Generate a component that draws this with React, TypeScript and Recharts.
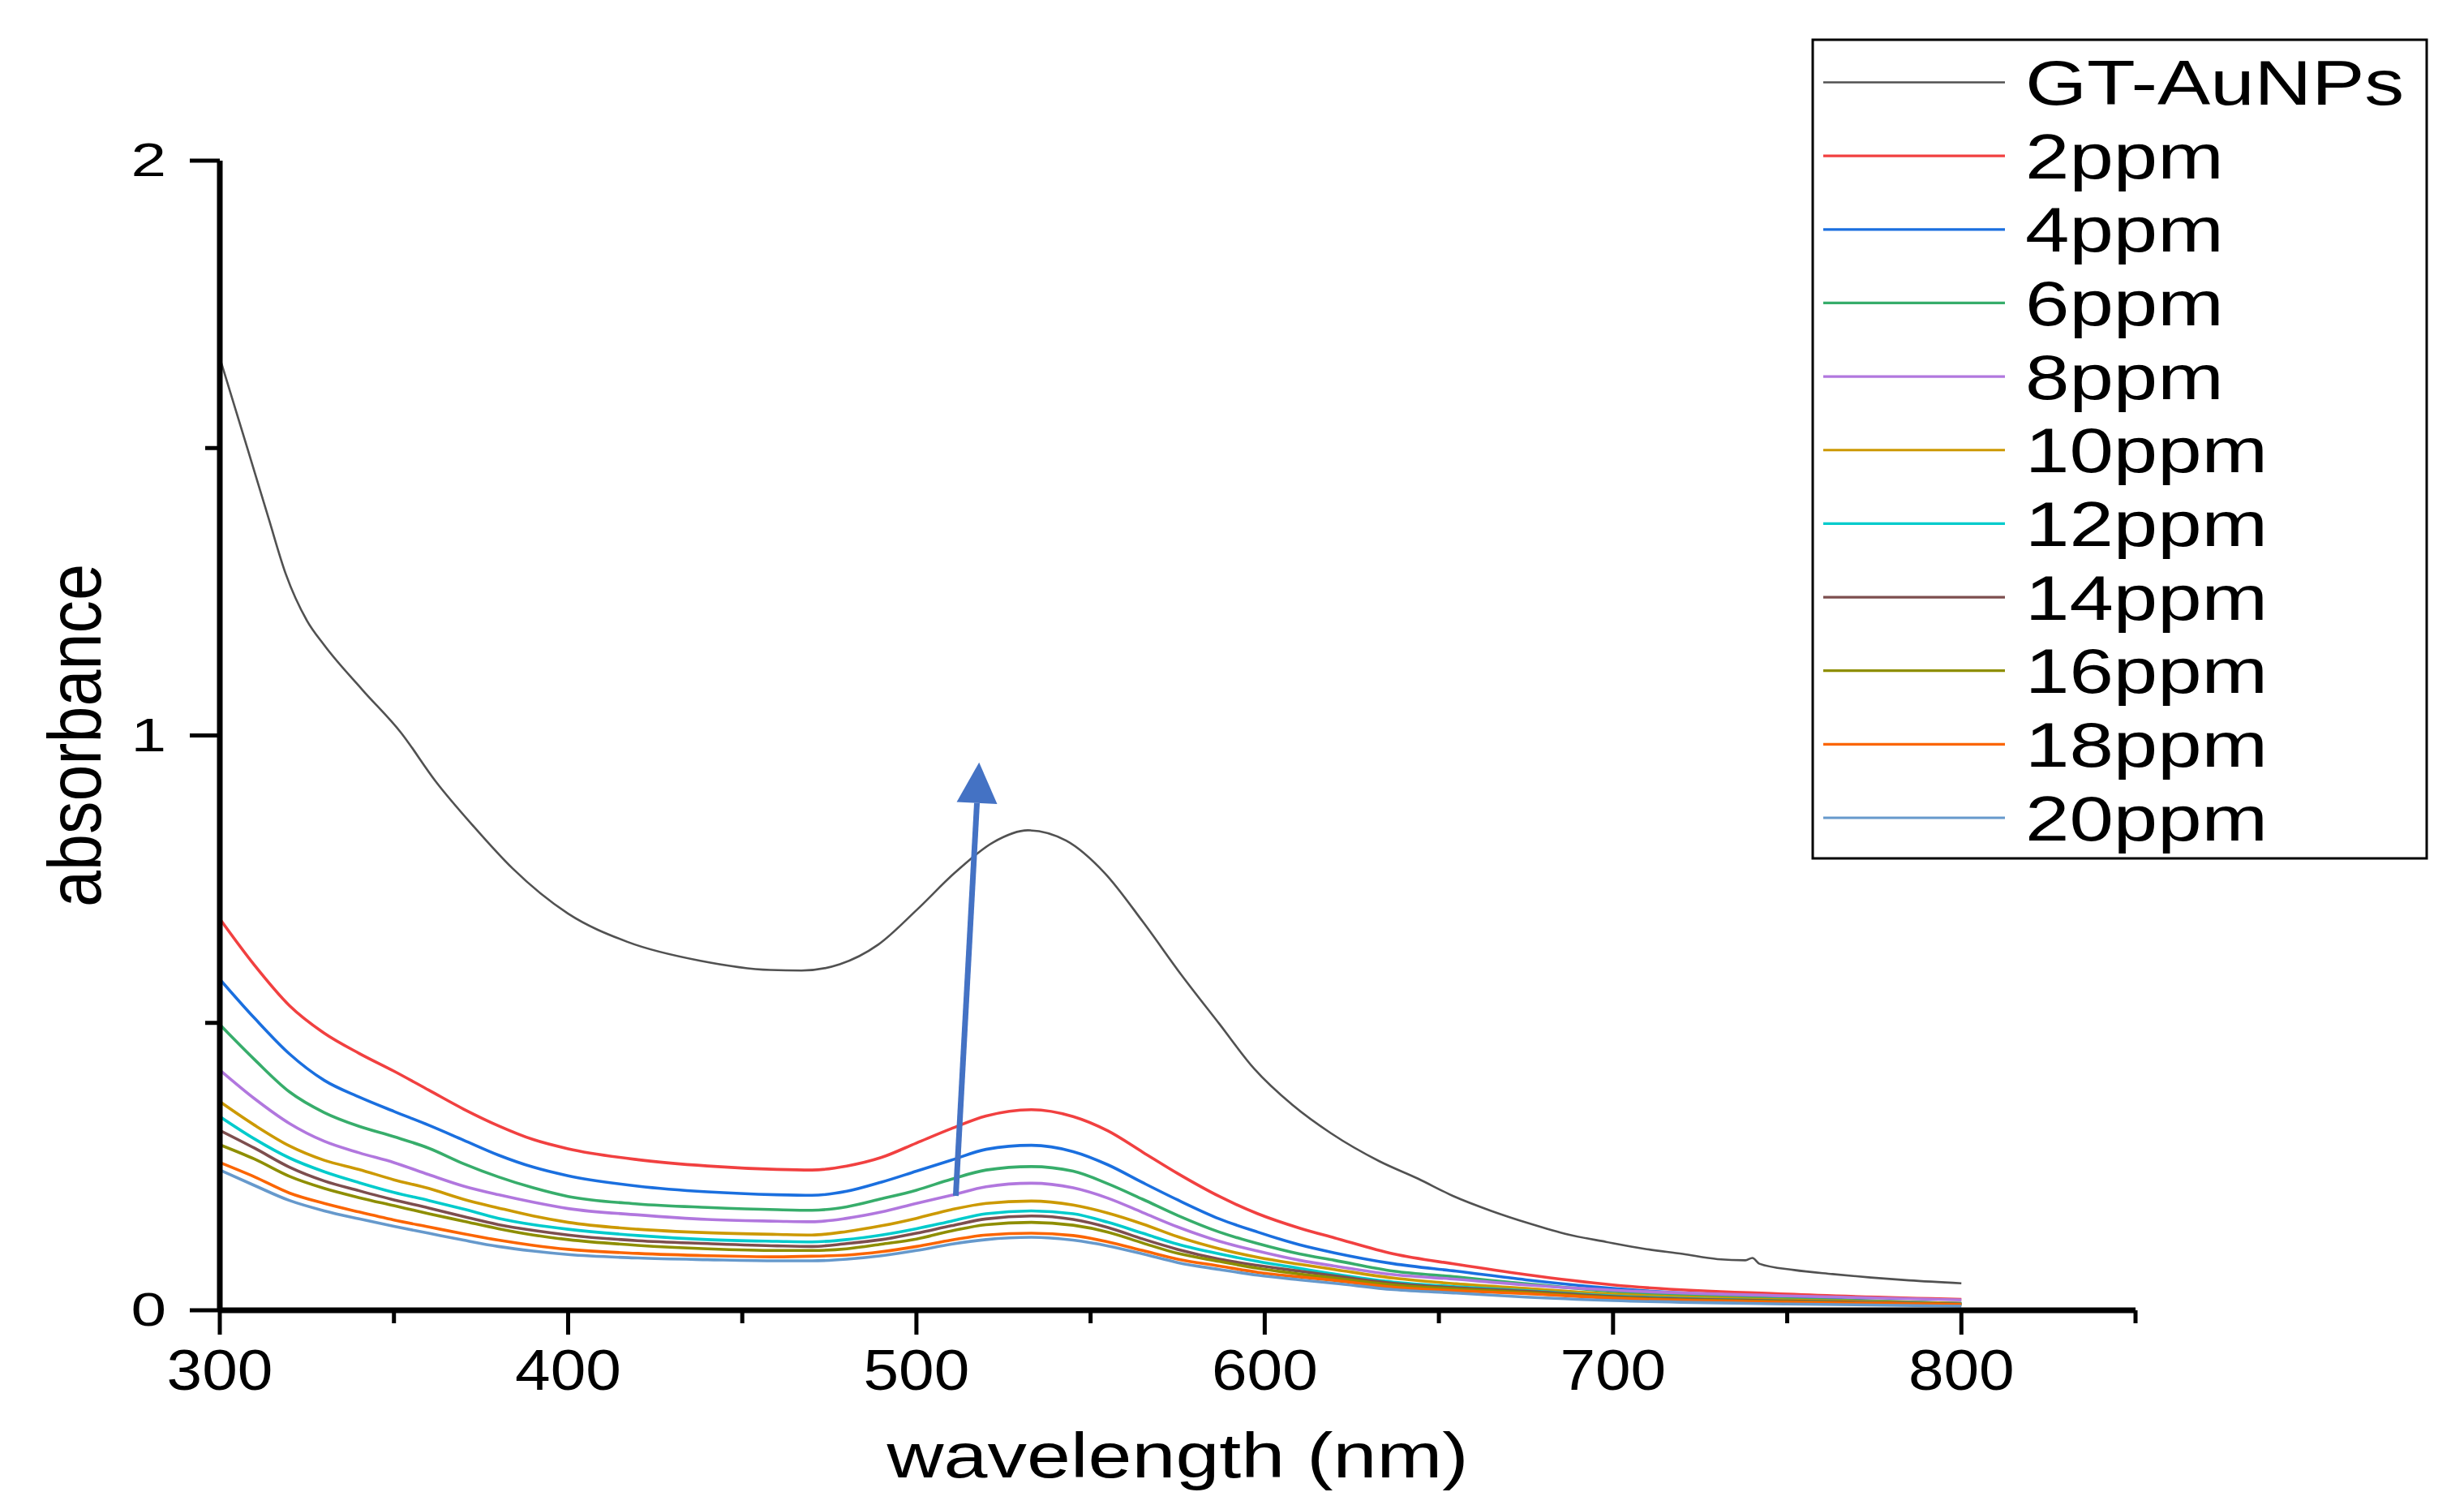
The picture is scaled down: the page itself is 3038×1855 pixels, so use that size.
import { LineChart, Line, XAxis, YAxis, Legend, ReferenceLine } from "recharts";

// wavelength grid (nm) shared by the ppm series
const wavelengths = [
  300, 310, 320, 330, 340, 350, 360, 370, 380, 390, 400, 420, 440, 460, 470, 480, 490,
  500, 510, 520, 533, 545, 555, 565, 575, 587, 598, 610, 620, 637, 655, 675, 700, 750, 800,
];

const ppm2 = [
  0.681, 0.6, 0.53, 0.482, 0.447, 0.416, 0.383, 0.35, 0.321, 0.297, 0.281, 0.262, 0.251, 0.245, 0.244, 0.251, 0.266,
  0.291, 0.316, 0.338, 0.349, 0.337, 0.312, 0.275, 0.238, 0.198, 0.168, 0.143, 0.126, 0.098, 0.08, 0.062, 0.044, 0.028, 0.019,
];
const ppm4 = [
  0.576, 0.508, 0.446, 0.4, 0.371, 0.346, 0.322, 0.296, 0.27, 0.249, 0.234, 0.216, 0.206, 0.201, 0.2, 0.207, 0.223,
  0.242, 0.261, 0.28, 0.287, 0.276, 0.253, 0.222, 0.192, 0.159, 0.136, 0.114, 0.1, 0.081, 0.068, 0.053, 0.038, 0.022, 0.012,
];
const ppm6 = [
  0.497, 0.436, 0.38, 0.344, 0.32, 0.302, 0.282, 0.255, 0.232, 0.213, 0.198, 0.185, 0.179, 0.175, 0.174, 0.18, 0.194,
  0.209, 0.228, 0.244, 0.25, 0.242, 0.22, 0.193, 0.165, 0.136, 0.116, 0.098, 0.087, 0.068, 0.058, 0.046, 0.033, 0.02, 0.012,
];
const ppm8 = [
  0.418, 0.368, 0.325, 0.294, 0.274, 0.257, 0.236, 0.216, 0.201, 0.188, 0.177, 0.166, 0.158, 0.155, 0.154, 0.16, 0.171,
  0.186, 0.2, 0.215, 0.221, 0.213, 0.195, 0.17, 0.145, 0.12, 0.103, 0.087, 0.077, 0.062, 0.054, 0.044, 0.035, 0.025, 0.018,
];
const ppm10 = [
  0.363, 0.322, 0.286, 0.261, 0.245, 0.227, 0.212, 0.193, 0.178, 0.164, 0.153, 0.141, 0.135, 0.132, 0.131, 0.137, 0.147,
  0.16, 0.175, 0.186, 0.19, 0.183, 0.169, 0.15, 0.128, 0.107, 0.092, 0.08, 0.071, 0.056, 0.046, 0.038, 0.028, 0.018, 0.012,
];
const ppm12 = [
  0.337, 0.298, 0.265, 0.241, 0.222, 0.205, 0.191, 0.176, 0.16, 0.149, 0.141, 0.13, 0.123, 0.12, 0.119, 0.123, 0.131,
  0.142, 0.155, 0.168, 0.173, 0.168, 0.153, 0.134, 0.115, 0.098, 0.085, 0.073, 0.063, 0.049, 0.041, 0.034, 0.025, 0.016, 0.011,
];
const ppm14 = [
  0.313, 0.282, 0.249, 0.225, 0.208, 0.192, 0.178, 0.163, 0.149, 0.139, 0.131, 0.121, 0.116, 0.112, 0.111, 0.116, 0.123,
  0.134, 0.147, 0.159, 0.164, 0.158, 0.144, 0.124, 0.106, 0.089, 0.078, 0.068, 0.06, 0.047, 0.039, 0.033, 0.024, 0.016, 0.011,
];
const ppm16 = [
  0.288, 0.263, 0.233, 0.212, 0.196, 0.182, 0.168, 0.155, 0.142, 0.131, 0.123, 0.113, 0.107, 0.104, 0.104, 0.107, 0.115,
  0.124, 0.138, 0.149, 0.153, 0.148, 0.136, 0.117, 0.099, 0.085, 0.073, 0.063, 0.056, 0.044, 0.037, 0.031, 0.022, 0.015, 0.01,
];
const ppm18 = [
  0.257, 0.232, 0.204, 0.186, 0.171, 0.157, 0.145, 0.133, 0.122, 0.113, 0.106, 0.099, 0.095, 0.093, 0.094, 0.096, 0.102,
  0.111, 0.122, 0.131, 0.134, 0.13, 0.119, 0.104, 0.089, 0.077, 0.066, 0.058, 0.052, 0.04, 0.034, 0.029, 0.021, 0.014, 0.01,
];
const ppm20 = [
  0.244, 0.217, 0.191, 0.173, 0.159, 0.146, 0.134, 0.122, 0.111, 0.103, 0.097, 0.091, 0.088, 0.086, 0.086, 0.089, 0.095,
  0.104, 0.115, 0.123, 0.127, 0.122, 0.112, 0.098, 0.083, 0.071, 0.061, 0.053, 0.047, 0.036, 0.03, 0.023, 0.017, 0.011, 0.007,
];

// GT-AuNPs has its own sampling (keeps the small glitch near 740 nm)
const gtWavelengths = [
  300, 308, 314, 319, 325, 330, 341, 352, 362, 373, 384, 400, 417, 438, 458, 467, 478, 489, 500, 511, 522, 532, 543, 554,
  565, 576, 587, 597, 608, 619, 633, 644, 654, 665, 676, 687, 698, 709, 720, 730, 738, 740, 742, 752, 763, 774, 785, 800,
];
const gtAuNPs = [
  1.657, 1.498, 1.378, 1.28, 1.2, 1.157, 1.079, 1.005, 0.92, 0.841, 0.769, 0.69, 0.641, 0.608, 0.592, 0.591, 0.602,
  0.636, 0.696, 0.761, 0.814, 0.835, 0.817, 0.761, 0.676, 0.584, 0.498, 0.42, 0.357, 0.308, 0.259, 0.229, 0.199, 0.173,
  0.151, 0.132, 0.119, 0.107, 0.098, 0.089, 0.087, 0.091, 0.081, 0.07, 0.063, 0.057, 0.052, 0.047,
];

const seriesNames = ["2ppm", "4ppm", "6ppm", "8ppm", "10ppm", "12ppm", "14ppm", "16ppm", "18ppm", "20ppm"];
const seriesValues = [ppm2, ppm4, ppm6, ppm8, ppm10, ppm12, ppm14, ppm16, ppm18, ppm20];
const seriesColors = [
  "#F14040", "#1A6FDF", "#37AD6B", "#B177DE", "#CC9900",
  "#00CBCC", "#7D4E4E", "#8E8E00", "#FB6501", "#6699CC",
];
const gtName = "GT-AuNPs";
const gtColor = "#515151";

const xTicks = [300, 350, 400, 450, 500, 550, 600, 650, 700, 750, 800, 850];
const yTicks = [0, 0.5, 1, 1.5, 2];

// annotation arrow (tail -> tip), in data units
const arrowSegment = [
  { x: 511.3, y: 0.199 },
  { x: 518.0, y: 0.953 },
];

const FONT = "'Liberation Sans', Arial, sans-serif";

const toRows = (xs: number[], ys: number[]) => xs.map((w, i) => ({ w, a: ys[i] }));

const XTick = (props: any) => {
  const { x, y, payload } = props;
  const v = payload.value;
  const major = v % 100 === 0;
  return (
    <g>
      <line x1={x} x2={x} y1={y} y2={y + (major ? 30 : 16)} stroke="#000" strokeWidth={5} />
      {major && (
        <text
          transform={`translate(${x},${y + 98}) scale(1.12,1)`}
          textAnchor="middle"
          fontSize={70}
          fontFamily={FONT}
          fill="#000"
        >
          {v}
        </text>
      )}
    </g>
  );
};

const YTick = (props: any) => {
  const { x, y, payload } = props;
  const v = payload.value;
  const major = Number.isInteger(v);
  return (
    <g>
      <line x1={x - (major ? 37 : 18)} x2={x} y1={y} y2={y} stroke="#000" strokeWidth={5} />
      {major && (
        <text
          transform={`translate(${x - 66},${y + 19}) scale(1.35,1)`}
          textAnchor="end"
          fontSize={58}
          fontFamily={FONT}
          fill="#000"
        >
          {v}
        </text>
      )}
    </g>
  );
};

const renderArrow = (p: any) => {
  const { x1, y1, x2, y2 } = p;
  const dx = x2 - x1;
  const dy = y2 - y1;
  const len = Math.hypot(dx, dy) || 1;
  const ux = dx / len;
  const uy = dy / len;
  const headLen = 50;
  const halfW = 25;
  const bx = x2 - ux * headLen;
  const by = y2 - uy * headLen;
  const pts = [
    [x2, y2],
    [bx - uy * halfW, by + ux * halfW],
    [bx + uy * halfW, by - ux * halfW],
  ]
    .map((q) => q.join(","))
    .join(" ");
  return (
    <g>
      <line x1={x1} y1={y1} x2={bx} y2={by} stroke="#4472C4" strokeWidth={7} />
      <polygon points={pts} fill="#4472C4" />
    </g>
  );
};

// legend in the same order as the plotted series
const legendItems = [
  { name: gtName, color: gtColor, width: 2.6 },
  ...seriesNames.map((name, i) => ({ name, color: seriesColors[i], width: 3.2 })),
];

const renderLegend = () => (
  <svg width={770} height={1020} style={{ display: "block" }}>
    <rect x={5} y={5} width={757} height={1009} fill="#fff" stroke="#000" strokeWidth={3} />
    {legendItems.map((item, i) => {
      const ly = 57.5 + 90.65 * i;
      return (
        <g key={item.name}>
          <line x1={18} x2={242} y1={ly} y2={ly} stroke={item.color} strokeWidth={item.width} />
          <text
            transform={`translate(267,${ly + 27.6}) scale(1.27,1)`}
            fontSize={77}
            fontFamily={FONT}
            fill="#000"
          >
            {item.name}
          </text>
        </g>
      );
    })}
  </svg>
);

export default function App() {
  return (
    <div style={{ position: "absolute", left: 0, top: 0, width: 3038, height: 1855, background: "#fff" }}>
      <LineChart width={3038} height={1855} margin={{ top: 198, right: 405, bottom: 140, left: 151 }}>
        <XAxis
          type="number"
          dataKey="w"
          domain={[300, 850]}
          ticks={xTicks}
          allowDataOverflow
          height={100}
          tickSize={0}
          tickMargin={0}
          tickLine={false}
          axisLine={{ stroke: "#000", strokeWidth: 7 }}
          tick={<XTick />}
          interval={0}
          label={{
            content: (p: any) => {
              const vb = p.viewBox || { x: 271, y: 1615, width: 2362 };
              return (
                <text
                  transform={`translate(${vb.x + vb.width / 2},${vb.y + 206}) scale(1.26,1)`}
                  textAnchor="middle"
                  fontSize={77}
                  fontFamily={FONT}
                  fill="#000"
                >
                  wavelength (nm)
                </text>
              );
            },
          }}
        />
        <YAxis
          type="number"
          domain={[0, 2]}
          ticks={yTicks}
          allowDataOverflow
          width={120}
          tickSize={0}
          tickMargin={0}
          tickLine={false}
          axisLine={{ stroke: "#000", strokeWidth: 7 }}
          tick={<YTick />}
          interval={0}
          label={{
            content: (p: any) => {
              const vb = p.viewBox || { x: 151, y: 198, height: 1417 };
              return (
                <text
                  transform={`translate(124,${vb.y + vb.height / 2}) rotate(-90) scale(1,1.15)`}
                  textAnchor="middle"
                  fontSize={81}
                  fontFamily={FONT}
                  fill="#000"
                >
                  absorbance
                </text>
              );
            },
          }}
        />
        <Line
          data={toRows(gtWavelengths, gtAuNPs)}
          dataKey="a"
          name={gtName}
          type="monotone"
          stroke={gtColor}
          strokeWidth={2.6}
          dot={false}
          activeDot={false}
          isAnimationActive={false}
        />
        {seriesNames.map((name, i) => (
          <Line
            key={name}
            data={toRows(wavelengths, seriesValues[i])}
            dataKey="a"
            name={name}
            type="monotone"
            stroke={seriesColors[i]}
            strokeWidth={3.6}
            dot={false}
            activeDot={false}
            isAnimationActive={false}
          />
        ))}
        <ReferenceLine segment={arrowSegment} shape={renderArrow} ifOverflow="visible" />
        <Legend
          layout="vertical"
          align="center"
          verticalAlign="middle"
          content={renderLegend}
          wrapperStyle={{ left: 2230, top: 44, width: 770, height: 1020 }}
        />
      </LineChart>
    </div>
  );
}
